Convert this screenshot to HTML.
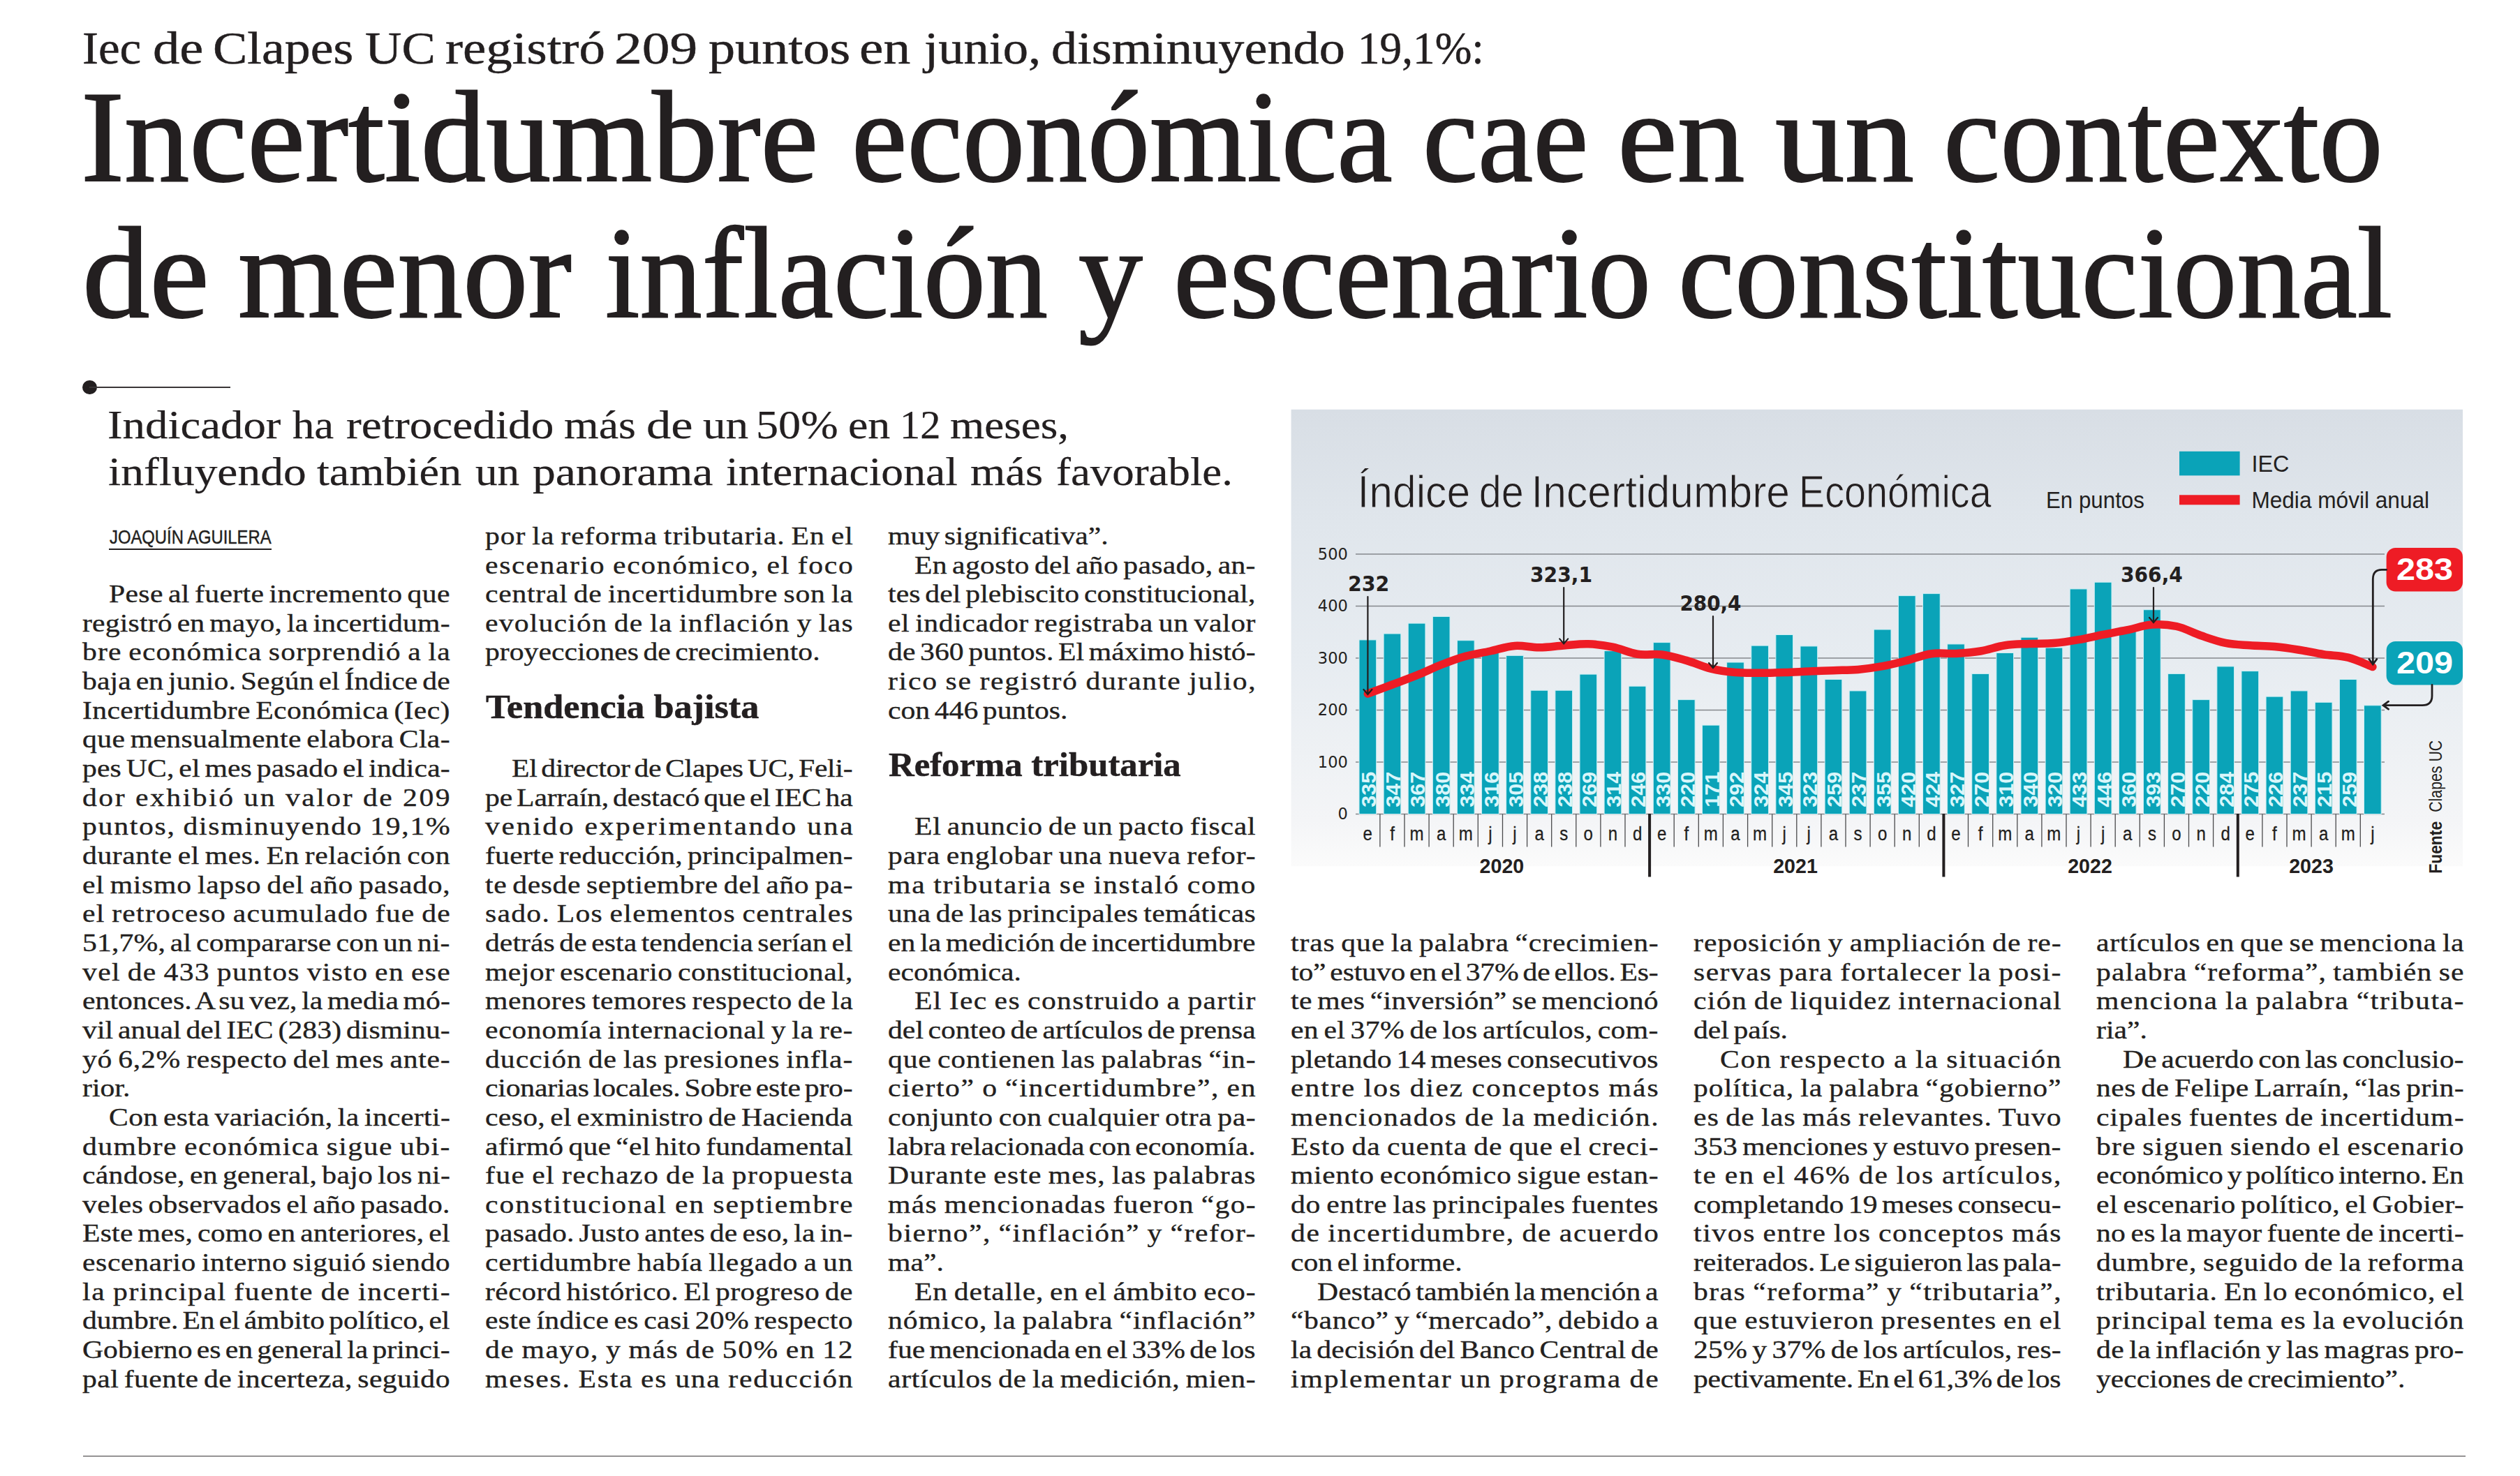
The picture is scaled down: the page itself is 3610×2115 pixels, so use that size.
<!DOCTYPE html>
<html lang="es"><head><meta charset="utf-8"><title>Incertidumbre económica cae en un contexto de menor inflación y escenario constitucional</title>
<style>
html,body{margin:0;padding:0;background:#fff}
body{width:3610px;height:2115px;position:relative;overflow:hidden;color:#231f20}
.t{display:block;position:absolute;white-space:pre;line-height:1;transform-origin:0 0;margin:0;font-kerning:normal}
h1,h2,h3,p,figure{margin:0;font-weight:400;font-size:inherit}
.b{font-family:'Liberation Serif',serif;font-size:35.2px;transform:scaleX(1.185);-webkit-text-stroke:.35px #231f20}
svg{position:absolute;left:0;top:0}
</style></head><body>
<p class="kicker"><span class="t" style="left:118.00px;top:37.16px;font-family:'Liberation Serif', serif;font-size:65px;transform:scaleX(1.0611);-webkit-text-stroke:0.5px #231f20;">Iec </span><span class="t" style="left:219.20px;top:37.16px;font-family:'Liberation Serif', serif;font-size:65px;transform:scaleX(1.1787);-webkit-text-stroke:0.5px #231f20;">de </span><span class="t" style="left:305.00px;top:37.16px;font-family:'Liberation Serif', serif;font-size:65px;transform:scaleX(1.1380);-webkit-text-stroke:0.5px #231f20;">Clapes </span><span class="t" style="left:523.00px;top:37.16px;font-family:'Liberation Serif', serif;font-size:65px;transform:scaleX(1.1164);-webkit-text-stroke:0.5px #231f20;">UC </span><span class="t" style="left:638.00px;top:37.16px;font-family:'Liberation Serif', serif;font-size:65px;transform:scaleX(1.1536);-webkit-text-stroke:0.5px #231f20;">registró </span><span class="t" style="left:880.00px;top:37.16px;font-family:'Liberation Serif', serif;font-size:65px;transform:scaleX(1.2240);-webkit-text-stroke:0.5px #231f20;">209 </span><span class="t" style="left:1015.00px;top:37.16px;font-family:'Liberation Serif', serif;font-size:65px;transform:scaleX(1.1724);-webkit-text-stroke:0.5px #231f20;">puntos </span><span class="t" style="left:1231.00px;top:37.16px;font-family:'Liberation Serif', serif;font-size:65px;transform:scaleX(1.1937);-webkit-text-stroke:0.5px #231f20;">en </span><span class="t" style="left:1324.00px;top:37.16px;font-family:'Liberation Serif', serif;font-size:65px;transform:scaleX(1.1158);-webkit-text-stroke:0.5px #231f20;">junio, </span><span class="t" style="left:1506.00px;top:37.16px;font-family:'Liberation Serif', serif;font-size:65px;transform:scaleX(1.1426);-webkit-text-stroke:0.5px #231f20;">disminuyendo </span><span class="t" style="left:1945.00px;top:37.16px;font-family:'Liberation Serif', serif;font-size:65px;transform:scaleX(0.9729);-webkit-text-stroke:0.5px #231f20;">19,1%:</span></p><h1><span class="t" style="left:115.60px;top:103.22px;font-family:'Liberation Serif', serif;font-size:186px;transform:scaleX(1.0027);-webkit-text-stroke:2px #231f20;">Incertidumbre </span><span class="t" style="left:1220.00px;top:103.22px;font-family:'Liberation Serif', serif;font-size:186px;transform:scaleX(0.9616);-webkit-text-stroke:2px #231f20;">económica </span><span class="t" style="left:2038.20px;top:103.22px;font-family:'Liberation Serif', serif;font-size:186px;transform:scaleX(0.9583);-webkit-text-stroke:2px #231f20;">cae </span><span class="t" style="left:2317.20px;top:103.22px;font-family:'Liberation Serif', serif;font-size:186px;transform:scaleX(1.0401);-webkit-text-stroke:2px #231f20;">en </span><span class="t" style="left:2543.00px;top:103.22px;font-family:'Liberation Serif', serif;font-size:186px;transform:scaleX(1.0702);-webkit-text-stroke:2px #231f20;">un </span><span class="t" style="left:2784.00px;top:103.22px;font-family:'Liberation Serif', serif;font-size:186px;transform:scaleX(0.9831);-webkit-text-stroke:2px #231f20;">contexto</span><span class="t" style="left:118.20px;top:298.23px;font-family:'Liberation Serif', serif;font-size:186px;transform:scaleX(1.0353);-webkit-text-stroke:2px #231f20;">de </span><span class="t" style="left:341.20px;top:298.23px;font-family:'Liberation Serif', serif;font-size:186px;transform:scaleX(1.0056);-webkit-text-stroke:2px #231f20;">menor </span><span class="t" style="left:867.00px;top:298.23px;font-family:'Liberation Serif', serif;font-size:186px;transform:scaleX(0.9591);-webkit-text-stroke:2px #231f20;">inflación </span><span class="t" style="left:1545.00px;top:298.23px;font-family:'Liberation Serif', serif;font-size:186px;transform:scaleX(0.9872);-webkit-text-stroke:2px #231f20;">y </span><span class="t" style="left:1681.00px;top:298.23px;font-family:'Liberation Serif', serif;font-size:186px;transform:scaleX(0.9743);-webkit-text-stroke:2px #231f20;">escenario </span><span class="t" style="left:2404.00px;top:298.23px;font-family:'Liberation Serif', serif;font-size:186px;transform:scaleX(0.9807);-webkit-text-stroke:2px #231f20;">constitucional</span></h1><div style="position:absolute;left:118.3px;top:544.7px;width:20.6px;height:20.6px;border-radius:50%;background:#231f20"></div><div style="position:absolute;left:128px;top:554.2px;width:202px;height:1.6px;background:#3a3637"></div><h2><span class="t" style="left:154.40px;top:579.86px;font-family:'Liberation Serif', serif;font-size:57px;transform:scaleX(1.1374);-webkit-text-stroke:0.25px #231f20;">Indicador </span><span class="t" style="left:419.20px;top:579.86px;font-family:'Liberation Serif', serif;font-size:57px;transform:scaleX(1.1003);-webkit-text-stroke:0.25px #231f20;">ha </span><span class="t" style="left:496.20px;top:579.86px;font-family:'Liberation Serif', serif;font-size:57px;transform:scaleX(1.1460);-webkit-text-stroke:0.25px #231f20;">retrocedido </span><span class="t" style="left:808.00px;top:579.86px;font-family:'Liberation Serif', serif;font-size:57px;transform:scaleX(1.1205);-webkit-text-stroke:0.25px #231f20;">más </span><span class="t" style="left:926.20px;top:579.86px;font-family:'Liberation Serif', serif;font-size:57px;transform:scaleX(1.2357);-webkit-text-stroke:0.25px #231f20;">de </span><span class="t" style="left:1006.80px;top:579.86px;font-family:'Liberation Serif', serif;font-size:57px;transform:scaleX(1.1446);-webkit-text-stroke:0.25px #231f20;">un </span><span class="t" style="left:1083.40px;top:579.86px;font-family:'Liberation Serif', serif;font-size:57px;transform:scaleX(1.1262);-webkit-text-stroke:0.25px #231f20;">50% </span><span class="t" style="left:1215.20px;top:579.86px;font-family:'Liberation Serif', serif;font-size:57px;transform:scaleX(1.1210);-webkit-text-stroke:0.25px #231f20;">en </span><span class="t" style="left:1288.80px;top:579.86px;font-family:'Liberation Serif', serif;font-size:57px;transform:scaleX(1.0243);-webkit-text-stroke:0.25px #231f20;">12 </span><span class="t" style="left:1361.00px;top:579.86px;font-family:'Liberation Serif', serif;font-size:57px;transform:scaleX(1.1081);-webkit-text-stroke:0.25px #231f20;">meses,</span><span class="t" style="left:155.40px;top:647.46px;font-family:'Liberation Serif', serif;font-size:57px;transform:scaleX(1.1485);-webkit-text-stroke:0.25px #231f20;">influyendo </span><span class="t" style="left:454.00px;top:647.46px;font-family:'Liberation Serif', serif;font-size:57px;transform:scaleX(1.1285);-webkit-text-stroke:0.25px #231f20;">también </span><span class="t" style="left:681.20px;top:647.46px;font-family:'Liberation Serif', serif;font-size:57px;transform:scaleX(1.1095);-webkit-text-stroke:0.25px #231f20;">un </span><span class="t" style="left:762.80px;top:647.46px;font-family:'Liberation Serif', serif;font-size:57px;transform:scaleX(1.1500);-webkit-text-stroke:0.25px #231f20;">panorama </span><span class="t" style="left:1039.60px;top:647.46px;font-family:'Liberation Serif', serif;font-size:57px;transform:scaleX(1.1152);-webkit-text-stroke:0.25px #231f20;">internacional </span><span class="t" style="left:1389.80px;top:647.46px;font-family:'Liberation Serif', serif;font-size:57px;transform:scaleX(1.1336);-webkit-text-stroke:0.25px #231f20;">más </span><span class="t" style="left:1512.60px;top:647.46px;font-family:'Liberation Serif', serif;font-size:57px;transform:scaleX(1.1024);-webkit-text-stroke:0.25px #231f20;">favorable.</span></h2><p class="byline"><span class="t" style="left:156.60px;top:756.83px;font-family:'Liberation Sans', sans-serif;font-size:26.9px;transform:scaleX(0.8856);-webkit-text-stroke:0.45px #231f20;">JOAQUÍN AGUILERA</span></p><div style="position:absolute;left:156px;top:786.3px;width:233px;height:1.6px;background:#231f20"></div>
<div class="col"><span class="t b" style="left:155.7px;top:834.1px;letter-spacing:0.27px;word-spacing:-2.89px">Pese al fuerte incremento que</span><span class="t b" style="left:117.7px;top:875.8px;letter-spacing:0.14px;word-spacing:-3.09px">registró en mayo, la incertidum-</span><span class="t b" style="left:117.7px;top:917.4px;letter-spacing:0.99px;word-spacing:-1.82px">bre económica sorprendió a la</span><span class="t b" style="left:117.7px;top:959.1px;letter-spacing:0.10px;word-spacing:-3.16px">baja en junio. Según el Índice de</span><span class="t b" style="left:117.7px;top:1000.7px;letter-spacing:0.30px;word-spacing:-2.84px">Incertidumbre Económica (Iec)</span><span class="t b" style="left:117.7px;top:1042.4px;letter-spacing:0.30px;word-spacing:-2.85px">que mensualmente elabora Cla-</span><span class="t b" style="left:117.7px;top:1084.0px;letter-spacing:0.10px;word-spacing:-3.15px">pes UC, el mes pasado el indica-</span><span class="t b" style="left:117.7px;top:1125.7px;letter-spacing:2.12px;word-spacing:-0.12px">dor exhibió un valor de 209</span><span class="t b" style="left:117.7px;top:1167.3px;letter-spacing:1.45px;word-spacing:-1.13px">puntos, disminuyendo 19,1%</span><span class="t b" style="left:117.7px;top:1209.0px;letter-spacing:0.46px;word-spacing:-2.61px">durante el mes. En relación con</span><span class="t b" style="left:117.7px;top:1250.6px;letter-spacing:0.58px;word-spacing:-2.43px">el mismo lapso del año pasado,</span><span class="t b" style="left:117.7px;top:1292.3px;letter-spacing:1.05px;word-spacing:-1.73px">el retroceso acumulado fue de</span><span class="t b" style="left:117.7px;top:1333.9px;letter-spacing:0.12px;word-spacing:-3.12px">51,7%, al compararse con un ni-</span><span class="t b" style="left:117.7px;top:1375.6px;letter-spacing:1.11px;word-spacing:-1.64px">vel de 433 puntos visto en ese</span><span class="t b" style="left:117.7px;top:1417.2px;letter-spacing:0.03px;word-spacing:-3.26px">entonces. A su vez, la media mó-</span><span class="t b" style="left:117.7px;top:1458.9px;letter-spacing:0.07px;word-spacing:-3.20px">vil anual del IEC (283) disminu-</span><span class="t b" style="left:117.7px;top:1500.5px;letter-spacing:0.58px;word-spacing:-2.43px">yó 6,2% respecto del mes ante-</span><span class="t b" style="left:117.7px;top:1542.2px;word-spacing:-3.30px">rior.</span><span class="t b" style="left:155.7px;top:1583.8px;letter-spacing:0.29px;word-spacing:-2.87px">Con esta variación, la incerti-</span><span class="t b" style="left:117.7px;top:1625.5px;letter-spacing:1.21px;word-spacing:-1.48px">dumbre económica sigue ubi-</span><span class="t b" style="left:117.7px;top:1667.1px;letter-spacing:0.22px;word-spacing:-2.98px">cándose, en general, bajo los ni-</span><span class="t b" style="left:117.7px;top:1708.8px;letter-spacing:0.25px;word-spacing:-2.92px">veles observados el año pasado.</span><span class="t b" style="left:117.7px;top:1750.4px;letter-spacing:0.17px;word-spacing:-3.05px">Este mes, como en anteriores, el</span><span class="t b" style="left:117.7px;top:1792.1px;letter-spacing:0.51px;word-spacing:-2.54px">escenario interno siguió siendo</span><span class="t b" style="left:117.7px;top:1833.7px;letter-spacing:1.37px;word-spacing:-1.25px">la principal fuente de incerti-</span><span class="t b" style="left:117.7px;top:1875.4px;letter-spacing:-0.06px;word-spacing:-3.60px">dumbre. En el ámbito político, el</span><span class="t b" style="left:117.7px;top:1917.0px;word-spacing:-3.55px">Gobierno es en general la princi-</span><span class="t b" style="left:117.7px;top:1958.7px;letter-spacing:0.35px;word-spacing:-2.77px">pal fuente de incerteza, seguido</span></div>
<div class="col"><span class="t b" style="left:694.7px;top:750.8px;letter-spacing:0.81px;word-spacing:-2.09px">por la reforma tributaria. En el</span><span class="t b" style="left:694.7px;top:792.5px;letter-spacing:1.40px;word-spacing:-1.21px">escenario económico, el foco</span><span class="t b" style="left:694.7px;top:834.1px;letter-spacing:0.61px;word-spacing:-2.39px">central de incertidumbre son la</span><span class="t b" style="left:694.7px;top:875.8px;letter-spacing:1.01px;word-spacing:-1.79px">evolución de la inflación y las</span><span class="t b" style="left:694.7px;top:917.4px;word-spacing:-3.30px">proyecciones de crecimiento.</span><h3><span class="t" style="left:696.00px;top:989.10px;font-family:'Liberation Serif', serif;font-size:48px;font-weight:700;transform:scaleX(1.0881);-webkit-text-stroke:0.5px #231f20;">Tendencia bajista</span></h3><span class="t b" style="left:732.7px;top:1084.0px;letter-spacing:-0.25px;word-spacing:-3.60px">El director de Clapes UC, Feli-</span><span class="t b" style="left:694.7px;top:1125.7px;letter-spacing:-0.12px;word-spacing:-3.60px">pe Larraín, destacó que el IEC ha</span><span class="t b" style="left:694.7px;top:1167.3px;letter-spacing:2.23px;word-spacing:0.04px">venido experimentando una</span><span class="t b" style="left:694.7px;top:1209.0px;letter-spacing:0.20px;word-spacing:-3.01px">fuerte reducción, principalmen-</span><span class="t b" style="left:694.7px;top:1250.6px;letter-spacing:0.49px;word-spacing:-2.57px">te desde septiembre del año pa-</span><span class="t b" style="left:694.7px;top:1292.3px;letter-spacing:1.05px;word-spacing:-1.72px">sado. Los elementos centrales</span><span class="t b" style="left:694.7px;top:1333.9px;letter-spacing:0.02px;word-spacing:-3.27px">detrás de esta tendencia serían el</span><span class="t b" style="left:694.7px;top:1375.6px;letter-spacing:0.37px;word-spacing:-2.74px">mejor escenario constitucional,</span><span class="t b" style="left:694.7px;top:1417.2px;letter-spacing:0.46px;word-spacing:-2.62px">menores temores respecto de la</span><span class="t b" style="left:694.7px;top:1458.9px;letter-spacing:0.55px;word-spacing:-2.47px">economía internacional y la re-</span><span class="t b" style="left:694.7px;top:1500.5px;letter-spacing:0.82px;word-spacing:-2.07px">ducción de las presiones infla-</span><span class="t b" style="left:694.7px;top:1542.2px;letter-spacing:-0.16px;word-spacing:-3.60px">cionarias locales. Sobre este pro-</span><span class="t b" style="left:694.7px;top:1583.8px;letter-spacing:0.25px;word-spacing:-2.92px">ceso, el exministro de Hacienda</span><span class="t b" style="left:694.7px;top:1625.5px;letter-spacing:0.17px;word-spacing:-3.04px">afirmó que “el hito fundamental</span><span class="t b" style="left:694.7px;top:1667.1px;letter-spacing:1.15px;word-spacing:-1.58px">fue el rechazo de la propuesta</span><span class="t b" style="left:694.7px;top:1708.8px;letter-spacing:1.61px;word-spacing:-0.88px">constitucional en septiembre</span><span class="t b" style="left:694.7px;top:1750.4px;letter-spacing:0.16px;word-spacing:-3.06px">pasado. Justo antes de eso, la in-</span><span class="t b" style="left:694.7px;top:1792.1px;letter-spacing:0.62px;word-spacing:-2.36px">certidumbre había llegado a un</span><span class="t b" style="left:694.7px;top:1833.7px;letter-spacing:0.35px;word-spacing:-2.77px">récord histórico. El progreso de</span><span class="t b" style="left:694.7px;top:1875.4px;letter-spacing:0.27px;word-spacing:-2.89px">este índice es casi 20% respecto</span><span class="t b" style="left:694.7px;top:1917.0px;letter-spacing:1.24px;word-spacing:-1.44px">de mayo, y más de 50% en 12</span><span class="t b" style="left:694.7px;top:1958.7px;letter-spacing:1.46px;word-spacing:-1.11px">meses. Esta es una reducción</span></div>
<div class="col"><span class="t b" style="left:1271.7px;top:750.8px;word-spacing:-3.30px">muy significativa”.</span><span class="t b" style="left:1309.7px;top:792.5px;letter-spacing:0.24px;word-spacing:-2.93px">En agosto del año pasado, an-</span><span class="t b" style="left:1271.7px;top:834.1px;letter-spacing:0.07px;word-spacing:-3.19px">tes del plebiscito constitucional,</span><span class="t b" style="left:1271.7px;top:875.8px;letter-spacing:0.48px;word-spacing:-2.57px">el indicador registraba un valor</span><span class="t b" style="left:1271.7px;top:917.4px;letter-spacing:0.04px;word-spacing:-3.24px">de 360 puntos. El máximo histó-</span><span class="t b" style="left:1271.7px;top:959.1px;letter-spacing:1.45px;word-spacing:-1.13px">rico se registró durante julio,</span><span class="t b" style="left:1271.7px;top:1000.7px;word-spacing:-3.30px">con 446 puntos.</span><h3><span class="t" style="left:1273.20px;top:1072.40px;font-family:'Liberation Serif', serif;font-size:48px;font-weight:700;transform:scaleX(1.0576);-webkit-text-stroke:0.5px #231f20;">Reforma tributaria</span></h3><span class="t b" style="left:1309.7px;top:1167.3px;letter-spacing:0.60px;word-spacing:-2.40px">El anuncio de un pacto fiscal</span><span class="t b" style="left:1271.7px;top:1209.0px;letter-spacing:0.70px;word-spacing:-2.25px">para englobar una nueva refor-</span><span class="t b" style="left:1271.7px;top:1250.6px;letter-spacing:1.44px;word-spacing:-1.13px">ma tributaria se instaló como</span><span class="t b" style="left:1271.7px;top:1292.3px;letter-spacing:0.33px;word-spacing:-2.81px">una de las principales temáticas</span><span class="t b" style="left:1271.7px;top:1333.9px;letter-spacing:0.06px;word-spacing:-3.21px">en la medición de incertidumbre</span><span class="t b" style="left:1271.7px;top:1375.6px;word-spacing:-3.30px">económica.</span><span class="t b" style="left:1309.7px;top:1417.2px;letter-spacing:1.15px;word-spacing:-1.57px">El Iec es construido a partir</span><span class="t b" style="left:1271.7px;top:1458.9px;letter-spacing:0.02px;word-spacing:-3.27px">del conteo de artículos de prensa</span><span class="t b" style="left:1271.7px;top:1500.5px;letter-spacing:0.66px;word-spacing:-2.31px">que contienen las palabras “in-</span><span class="t b" style="left:1271.7px;top:1542.2px;letter-spacing:1.35px;word-spacing:-1.27px">cierto” o “incertidumbre”, en</span><span class="t b" style="left:1271.7px;top:1583.8px;letter-spacing:0.50px;word-spacing:-2.55px">conjunto con cualquier otra pa-</span><span class="t b" style="left:1271.7px;top:1625.5px;letter-spacing:-0.00px;word-spacing:-3.60px">labra relacionada con economía.</span><span class="t b" style="left:1271.7px;top:1667.1px;letter-spacing:0.93px;word-spacing:-1.90px">Durante este mes, las palabras</span><span class="t b" style="left:1271.7px;top:1708.8px;letter-spacing:1.09px;word-spacing:-1.67px">más mencionadas fueron “go-</span><span class="t b" style="left:1271.7px;top:1750.4px;letter-spacing:1.33px;word-spacing:-1.30px">bierno”, “inflación” y “refor-</span><span class="t b" style="left:1271.7px;top:1792.1px;word-spacing:-3.30px">ma”.</span><span class="t b" style="left:1309.7px;top:1833.7px;letter-spacing:0.74px;word-spacing:-2.19px">En detalle, en el ámbito eco-</span><span class="t b" style="left:1271.7px;top:1875.4px;letter-spacing:0.85px;word-spacing:-2.03px">nómico, la palabra “inflación”</span><span class="t b" style="left:1271.7px;top:1917.0px;word-spacing:-3.45px">fue mencionada en el 33% de los</span><span class="t b" style="left:1271.7px;top:1958.7px;letter-spacing:0.58px;word-spacing:-2.43px">artículos de la medición, mien-</span></div>
<div class="col"><span class="t b" style="left:1848.7px;top:1333.9px;letter-spacing:0.72px;word-spacing:-2.22px">tras que la palabra “crecimien-</span><span class="t b" style="left:1848.7px;top:1375.6px;letter-spacing:-0.16px;word-spacing:-3.60px">to” estuvo en el 37% de ellos. Es-</span><span class="t b" style="left:1848.7px;top:1417.2px;letter-spacing:0.29px;word-spacing:-2.87px">te mes “inversión” se mencionó</span><span class="t b" style="left:1848.7px;top:1458.9px;letter-spacing:0.29px;word-spacing:-2.86px">en el 37% de los artículos, com-</span><span class="t b" style="left:1848.7px;top:1500.5px;letter-spacing:0.11px;word-spacing:-3.13px">pletando 14 meses consecutivos</span><span class="t b" style="left:1848.7px;top:1542.2px;letter-spacing:1.67px;word-spacing:-0.80px">entre los diez conceptos más</span><span class="t b" style="left:1848.7px;top:1583.8px;letter-spacing:1.44px;word-spacing:-1.14px">mencionados de la medición.</span><span class="t b" style="left:1848.7px;top:1625.5px;letter-spacing:0.88px;word-spacing:-1.98px">Esto da cuenta de que el creci-</span><span class="t b" style="left:1848.7px;top:1667.1px;letter-spacing:0.54px;word-spacing:-2.49px">miento económico sigue estan-</span><span class="t b" style="left:1848.7px;top:1708.8px;letter-spacing:0.59px;word-spacing:-2.42px">do entre las principales fuentes</span><span class="t b" style="left:1848.7px;top:1750.4px;letter-spacing:1.40px;word-spacing:-1.21px">de incertidumbre, de acuerdo</span><span class="t b" style="left:1848.7px;top:1792.1px;word-spacing:-3.30px">con el informe.</span><span class="t b" style="left:1886.7px;top:1833.7px;letter-spacing:0.04px;word-spacing:-3.23px">Destacó también la mención a</span><span class="t b" style="left:1848.7px;top:1875.4px;letter-spacing:0.50px;word-spacing:-2.55px">“banco” y “mercado”, debido a</span><span class="t b" style="left:1848.7px;top:1917.0px;letter-spacing:0.12px;word-spacing:-3.12px">la decisión del Banco Central de</span><span class="t b" style="left:1848.7px;top:1958.7px;letter-spacing:1.59px;word-spacing:-0.92px">implementar un programa de</span></div>
<div class="col"><span class="t b" style="left:2425.7px;top:1333.9px;letter-spacing:0.85px;word-spacing:-2.03px">reposición y ampliación de re-</span><span class="t b" style="left:2425.7px;top:1375.6px;letter-spacing:1.20px;word-spacing:-1.49px">servas para fortalecer la posi-</span><span class="t b" style="left:2425.7px;top:1417.2px;letter-spacing:1.11px;word-spacing:-1.64px">ción de liquidez internacional</span><span class="t b" style="left:2425.7px;top:1458.9px;word-spacing:-3.30px">del país.</span><span class="t b" style="left:2463.7px;top:1500.5px;letter-spacing:1.45px;word-spacing:-1.13px">Con respecto a la situación</span><span class="t b" style="left:2425.7px;top:1542.2px;letter-spacing:0.82px;word-spacing:-2.07px">política, la palabra “gobierno”</span><span class="t b" style="left:2425.7px;top:1583.8px;letter-spacing:0.95px;word-spacing:-1.87px">es de las más relevantes. Tuvo</span><span class="t b" style="left:2425.7px;top:1625.5px;letter-spacing:0.17px;word-spacing:-3.04px">353 menciones y estuvo presen-</span><span class="t b" style="left:2425.7px;top:1667.1px;letter-spacing:1.54px;word-spacing:-0.98px">te en el 46% de los artículos,</span><span class="t b" style="left:2425.7px;top:1708.8px;word-spacing:-3.33px">completando 19 meses consecu-</span><span class="t b" style="left:2425.7px;top:1750.4px;letter-spacing:1.33px;word-spacing:-1.31px">tivos entre los conceptos más</span><span class="t b" style="left:2425.7px;top:1792.1px;letter-spacing:-0.04px;word-spacing:-3.60px">reiterados. Le siguieron las pala-</span><span class="t b" style="left:2425.7px;top:1833.7px;letter-spacing:1.20px;word-spacing:-1.51px">bras “reforma” y “tributaria”,</span><span class="t b" style="left:2425.7px;top:1875.4px;letter-spacing:1.01px;word-spacing:-1.78px">que estuvieron presentes en el</span><span class="t b" style="left:2425.7px;top:1917.0px;letter-spacing:0.20px;word-spacing:-3.01px">25% y 37% de los artículos, res-</span><span class="t b" style="left:2425.7px;top:1958.7px;letter-spacing:-0.25px;word-spacing:-3.60px">pectivamente. En el 61,3% de los</span></div>
<div class="col"><span class="t b" style="left:3002.7px;top:1333.9px;letter-spacing:0.54px;word-spacing:-2.49px">artículos en que se menciona la</span><span class="t b" style="left:3002.7px;top:1375.6px;letter-spacing:0.93px;word-spacing:-1.90px">palabra “reforma”, también se</span><span class="t b" style="left:3002.7px;top:1417.2px;letter-spacing:1.32px;word-spacing:-1.32px">menciona la palabra “tributa-</span><span class="t b" style="left:3002.7px;top:1458.9px;word-spacing:-3.30px">ria”.</span><span class="t b" style="left:3040.7px;top:1500.5px;letter-spacing:0.04px;word-spacing:-3.23px">De acuerdo con las conclusio-</span><span class="t b" style="left:3002.7px;top:1542.2px;letter-spacing:0.34px;word-spacing:-2.79px">nes de Felipe Larraín, “las prin-</span><span class="t b" style="left:3002.7px;top:1583.8px;letter-spacing:0.93px;word-spacing:-1.90px">cipales fuentes de incertidum-</span><span class="t b" style="left:3002.7px;top:1625.5px;letter-spacing:1.01px;word-spacing:-1.78px">bre siguen siendo el escenario</span><span class="t b" style="left:3002.7px;top:1667.1px;letter-spacing:-0.11px;word-spacing:-3.60px">económico y político interno. En</span><span class="t b" style="left:3002.7px;top:1708.8px;letter-spacing:0.36px;word-spacing:-2.76px">el escenario político, el Gobier-</span><span class="t b" style="left:3002.7px;top:1750.4px;letter-spacing:0.22px;word-spacing:-2.97px">no es la mayor fuente de incerti-</span><span class="t b" style="left:3002.7px;top:1792.1px;letter-spacing:0.78px;word-spacing:-2.12px">dumbre, seguido de la reforma</span><span class="t b" style="left:3002.7px;top:1833.7px;letter-spacing:0.82px;word-spacing:-2.07px">tributaria. En lo económico, el</span><span class="t b" style="left:3002.7px;top:1875.4px;letter-spacing:1.01px;word-spacing:-1.78px">principal tema es la evolución</span><span class="t b" style="left:3002.7px;top:1917.0px;letter-spacing:0.26px;word-spacing:-2.90px">de la inflación y las magras pro-</span><span class="t b" style="left:3002.7px;top:1958.7px;word-spacing:-3.30px">yecciones de crecimiento”.</span></div><div style="position:absolute;left:118.6px;top:2085.6px;width:3413px;height:1.6px;background:#3a3637"></div>
<figure><svg width="1730" height="700" viewBox="1830 575 1730 700" style="left:1830px;top:575px" role="img" aria-label="Índice de Incertidumbre Económica">
<defs><linearGradient id="bg" x1="0" y1="0" x2="0" y2="1"><stop offset="0" stop-color="#d8dee5"/><stop offset="0.25" stop-color="#e0e6ec"/><stop offset="0.55" stop-color="#e7ecf1"/><stop offset="0.75" stop-color="#eef1f4"/><stop offset="0.9" stop-color="#f4f5f7"/><stop offset="1" stop-color="#fbfbfb"/></linearGradient></defs>
<rect x="1849.6" y="586.8" width="1678.4" height="654.5" fill="url(#bg)"/>
<line x1="1942" x2="3416" y1="1166.5" y2="1166.5" stroke="#85888c" stroke-width="1.5"/>
<text x="1930.8" y="1174.3" font-family="'DejaVu Sans', 'Liberation Sans', sans-serif" font-size="22.5" fill="#231f20" text-anchor="end">0</text>
<line x1="1942" x2="3416" y1="1092.0" y2="1092.0" stroke="#85888c" stroke-width="1.5"/>
<text x="1930.8" y="1099.8" font-family="'DejaVu Sans', 'Liberation Sans', sans-serif" font-size="22.5" fill="#231f20" text-anchor="end">100</text>
<line x1="1942" x2="3416" y1="1017.5" y2="1017.5" stroke="#85888c" stroke-width="1.5"/>
<text x="1930.8" y="1025.3" font-family="'DejaVu Sans', 'Liberation Sans', sans-serif" font-size="22.5" fill="#231f20" text-anchor="end">200</text>
<line x1="1942" x2="3416" y1="943.0" y2="943.0" stroke="#85888c" stroke-width="1.5"/>
<text x="1930.8" y="950.8" font-family="'DejaVu Sans', 'Liberation Sans', sans-serif" font-size="22.5" fill="#231f20" text-anchor="end">300</text>
<line x1="1942" x2="3416" y1="868.5" y2="868.5" stroke="#85888c" stroke-width="1.5"/>
<text x="1930.8" y="876.3" font-family="'DejaVu Sans', 'Liberation Sans', sans-serif" font-size="22.5" fill="#231f20" text-anchor="end">400</text>
<line x1="1942" x2="3416" y1="794.0" y2="794.0" stroke="#85888c" stroke-width="1.5"/>
<text x="1930.8" y="801.8" font-family="'DejaVu Sans', 'Liberation Sans', sans-serif" font-size="22.5" fill="#231f20" text-anchor="end">500</text>
<rect x="1947.00" y="916.9" width="24.7" height="249.6" fill="#0aa3b8" stroke="#cdeff4" stroke-width="1"/>
<rect x="1982.11" y="908.0" width="24.7" height="258.5" fill="#0aa3b8" stroke="#cdeff4" stroke-width="1"/>
<rect x="2017.22" y="893.1" width="24.7" height="273.4" fill="#0aa3b8" stroke="#cdeff4" stroke-width="1"/>
<rect x="2052.33" y="883.4" width="24.7" height="283.1" fill="#0aa3b8" stroke="#cdeff4" stroke-width="1"/>
<rect x="2087.44" y="917.7" width="24.7" height="248.8" fill="#0aa3b8" stroke="#cdeff4" stroke-width="1"/>
<rect x="2122.55" y="931.1" width="24.7" height="235.4" fill="#0aa3b8" stroke="#cdeff4" stroke-width="1"/>
<rect x="2157.66" y="939.3" width="24.7" height="227.2" fill="#0aa3b8" stroke="#cdeff4" stroke-width="1"/>
<rect x="2192.77" y="989.2" width="24.7" height="177.3" fill="#0aa3b8" stroke="#cdeff4" stroke-width="1"/>
<rect x="2227.88" y="989.2" width="24.7" height="177.3" fill="#0aa3b8" stroke="#cdeff4" stroke-width="1"/>
<rect x="2262.99" y="966.1" width="24.7" height="200.4" fill="#0aa3b8" stroke="#cdeff4" stroke-width="1"/>
<rect x="2298.10" y="932.6" width="24.7" height="233.9" fill="#0aa3b8" stroke="#cdeff4" stroke-width="1"/>
<rect x="2333.21" y="983.2" width="24.7" height="183.3" fill="#0aa3b8" stroke="#cdeff4" stroke-width="1"/>
<rect x="2368.32" y="920.6" width="24.7" height="245.8" fill="#0aa3b8" stroke="#cdeff4" stroke-width="1"/>
<rect x="2403.43" y="1002.6" width="24.7" height="163.9" fill="#0aa3b8" stroke="#cdeff4" stroke-width="1"/>
<rect x="2438.54" y="1039.1" width="24.7" height="127.4" fill="#0aa3b8" stroke="#cdeff4" stroke-width="1"/>
<rect x="2473.65" y="949.0" width="24.7" height="217.5" fill="#0aa3b8" stroke="#cdeff4" stroke-width="1"/>
<rect x="2508.76" y="925.1" width="24.7" height="241.4" fill="#0aa3b8" stroke="#cdeff4" stroke-width="1"/>
<rect x="2543.87" y="909.5" width="24.7" height="257.0" fill="#0aa3b8" stroke="#cdeff4" stroke-width="1"/>
<rect x="2578.98" y="925.9" width="24.7" height="240.6" fill="#0aa3b8" stroke="#cdeff4" stroke-width="1"/>
<rect x="2614.09" y="973.5" width="24.7" height="193.0" fill="#0aa3b8" stroke="#cdeff4" stroke-width="1"/>
<rect x="2649.20" y="989.9" width="24.7" height="176.6" fill="#0aa3b8" stroke="#cdeff4" stroke-width="1"/>
<rect x="2684.31" y="902.0" width="24.7" height="264.5" fill="#0aa3b8" stroke="#cdeff4" stroke-width="1"/>
<rect x="2719.42" y="853.6" width="24.7" height="312.9" fill="#0aa3b8" stroke="#cdeff4" stroke-width="1"/>
<rect x="2754.53" y="850.6" width="24.7" height="315.9" fill="#0aa3b8" stroke="#cdeff4" stroke-width="1"/>
<rect x="2789.64" y="922.9" width="24.7" height="243.6" fill="#0aa3b8" stroke="#cdeff4" stroke-width="1"/>
<rect x="2824.75" y="965.4" width="24.7" height="201.2" fill="#0aa3b8" stroke="#cdeff4" stroke-width="1"/>
<rect x="2859.86" y="935.5" width="24.7" height="230.9" fill="#0aa3b8" stroke="#cdeff4" stroke-width="1"/>
<rect x="2894.97" y="913.2" width="24.7" height="253.3" fill="#0aa3b8" stroke="#cdeff4" stroke-width="1"/>
<rect x="2930.08" y="928.1" width="24.7" height="238.4" fill="#0aa3b8" stroke="#cdeff4" stroke-width="1"/>
<rect x="2965.19" y="843.9" width="24.7" height="322.6" fill="#0aa3b8" stroke="#cdeff4" stroke-width="1"/>
<rect x="3000.30" y="834.2" width="24.7" height="332.3" fill="#0aa3b8" stroke="#cdeff4" stroke-width="1"/>
<rect x="3035.41" y="898.3" width="24.7" height="268.2" fill="#0aa3b8" stroke="#cdeff4" stroke-width="1"/>
<rect x="3070.52" y="873.7" width="24.7" height="292.8" fill="#0aa3b8" stroke="#cdeff4" stroke-width="1"/>
<rect x="3105.63" y="965.4" width="24.7" height="201.2" fill="#0aa3b8" stroke="#cdeff4" stroke-width="1"/>
<rect x="3140.74" y="1002.6" width="24.7" height="163.9" fill="#0aa3b8" stroke="#cdeff4" stroke-width="1"/>
<rect x="3175.85" y="954.9" width="24.7" height="211.6" fill="#0aa3b8" stroke="#cdeff4" stroke-width="1"/>
<rect x="3210.96" y="961.6" width="24.7" height="204.9" fill="#0aa3b8" stroke="#cdeff4" stroke-width="1"/>
<rect x="3246.07" y="998.1" width="24.7" height="168.4" fill="#0aa3b8" stroke="#cdeff4" stroke-width="1"/>
<rect x="3281.18" y="989.9" width="24.7" height="176.6" fill="#0aa3b8" stroke="#cdeff4" stroke-width="1"/>
<rect x="3316.29" y="1006.3" width="24.7" height="160.2" fill="#0aa3b8" stroke="#cdeff4" stroke-width="1"/>
<rect x="3351.40" y="973.5" width="24.7" height="193.0" fill="#0aa3b8" stroke="#cdeff4" stroke-width="1"/>
<rect x="3386.51" y="1010.8" width="24.7" height="155.7" fill="#0aa3b8" stroke="#cdeff4" stroke-width="1"/>
<text transform="translate(1971.1 1156.8) rotate(-90)" font-family="'Liberation Sans', sans-serif" font-size="29.5" font-weight="700" fill="#d9f6fa" textLength="51" lengthAdjust="spacingAndGlyphs">335</text>
<text transform="translate(2006.3 1156.8) rotate(-90)" font-family="'Liberation Sans', sans-serif" font-size="29.5" font-weight="700" fill="#d9f6fa" textLength="51" lengthAdjust="spacingAndGlyphs">347</text>
<text transform="translate(2041.4 1156.8) rotate(-90)" font-family="'Liberation Sans', sans-serif" font-size="29.5" font-weight="700" fill="#d9f6fa" textLength="51" lengthAdjust="spacingAndGlyphs">367</text>
<text transform="translate(2076.5 1156.8) rotate(-90)" font-family="'Liberation Sans', sans-serif" font-size="29.5" font-weight="700" fill="#d9f6fa" textLength="51" lengthAdjust="spacingAndGlyphs">380</text>
<text transform="translate(2111.6 1156.8) rotate(-90)" font-family="'Liberation Sans', sans-serif" font-size="29.5" font-weight="700" fill="#d9f6fa" textLength="51" lengthAdjust="spacingAndGlyphs">334</text>
<text transform="translate(2146.7 1156.8) rotate(-90)" font-family="'Liberation Sans', sans-serif" font-size="29.5" font-weight="700" fill="#d9f6fa" textLength="51" lengthAdjust="spacingAndGlyphs">316</text>
<text transform="translate(2181.8 1156.8) rotate(-90)" font-family="'Liberation Sans', sans-serif" font-size="29.5" font-weight="700" fill="#d9f6fa" textLength="51" lengthAdjust="spacingAndGlyphs">305</text>
<text transform="translate(2216.9 1156.8) rotate(-90)" font-family="'Liberation Sans', sans-serif" font-size="29.5" font-weight="700" fill="#d9f6fa" textLength="51" lengthAdjust="spacingAndGlyphs">238</text>
<text transform="translate(2252.0 1156.8) rotate(-90)" font-family="'Liberation Sans', sans-serif" font-size="29.5" font-weight="700" fill="#d9f6fa" textLength="51" lengthAdjust="spacingAndGlyphs">238</text>
<text transform="translate(2287.1 1156.8) rotate(-90)" font-family="'Liberation Sans', sans-serif" font-size="29.5" font-weight="700" fill="#d9f6fa" textLength="51" lengthAdjust="spacingAndGlyphs">269</text>
<text transform="translate(2322.2 1156.8) rotate(-90)" font-family="'Liberation Sans', sans-serif" font-size="29.5" font-weight="700" fill="#d9f6fa" textLength="51" lengthAdjust="spacingAndGlyphs">314</text>
<text transform="translate(2357.4 1156.8) rotate(-90)" font-family="'Liberation Sans', sans-serif" font-size="29.5" font-weight="700" fill="#d9f6fa" textLength="51" lengthAdjust="spacingAndGlyphs">246</text>
<text transform="translate(2392.5 1156.8) rotate(-90)" font-family="'Liberation Sans', sans-serif" font-size="29.5" font-weight="700" fill="#d9f6fa" textLength="51" lengthAdjust="spacingAndGlyphs">330</text>
<text transform="translate(2427.6 1156.8) rotate(-90)" font-family="'Liberation Sans', sans-serif" font-size="29.5" font-weight="700" fill="#d9f6fa" textLength="51" lengthAdjust="spacingAndGlyphs">220</text>
<text transform="translate(2462.7 1156.8) rotate(-90)" font-family="'Liberation Sans', sans-serif" font-size="29.5" font-weight="700" fill="#d9f6fa" textLength="51" lengthAdjust="spacingAndGlyphs">171</text>
<text transform="translate(2497.8 1156.8) rotate(-90)" font-family="'Liberation Sans', sans-serif" font-size="29.5" font-weight="700" fill="#d9f6fa" textLength="51" lengthAdjust="spacingAndGlyphs">292</text>
<text transform="translate(2532.9 1156.8) rotate(-90)" font-family="'Liberation Sans', sans-serif" font-size="29.5" font-weight="700" fill="#d9f6fa" textLength="51" lengthAdjust="spacingAndGlyphs">324</text>
<text transform="translate(2568.0 1156.8) rotate(-90)" font-family="'Liberation Sans', sans-serif" font-size="29.5" font-weight="700" fill="#d9f6fa" textLength="51" lengthAdjust="spacingAndGlyphs">345</text>
<text transform="translate(2603.1 1156.8) rotate(-90)" font-family="'Liberation Sans', sans-serif" font-size="29.5" font-weight="700" fill="#d9f6fa" textLength="51" lengthAdjust="spacingAndGlyphs">323</text>
<text transform="translate(2638.2 1156.8) rotate(-90)" font-family="'Liberation Sans', sans-serif" font-size="29.5" font-weight="700" fill="#d9f6fa" textLength="51" lengthAdjust="spacingAndGlyphs">259</text>
<text transform="translate(2673.3 1156.8) rotate(-90)" font-family="'Liberation Sans', sans-serif" font-size="29.5" font-weight="700" fill="#d9f6fa" textLength="51" lengthAdjust="spacingAndGlyphs">237</text>
<text transform="translate(2708.5 1156.8) rotate(-90)" font-family="'Liberation Sans', sans-serif" font-size="29.5" font-weight="700" fill="#d9f6fa" textLength="51" lengthAdjust="spacingAndGlyphs">355</text>
<text transform="translate(2743.6 1156.8) rotate(-90)" font-family="'Liberation Sans', sans-serif" font-size="29.5" font-weight="700" fill="#d9f6fa" textLength="51" lengthAdjust="spacingAndGlyphs">420</text>
<text transform="translate(2778.7 1156.8) rotate(-90)" font-family="'Liberation Sans', sans-serif" font-size="29.5" font-weight="700" fill="#d9f6fa" textLength="51" lengthAdjust="spacingAndGlyphs">424</text>
<text transform="translate(2813.8 1156.8) rotate(-90)" font-family="'Liberation Sans', sans-serif" font-size="29.5" font-weight="700" fill="#d9f6fa" textLength="51" lengthAdjust="spacingAndGlyphs">327</text>
<text transform="translate(2848.9 1156.8) rotate(-90)" font-family="'Liberation Sans', sans-serif" font-size="29.5" font-weight="700" fill="#d9f6fa" textLength="51" lengthAdjust="spacingAndGlyphs">270</text>
<text transform="translate(2884.0 1156.8) rotate(-90)" font-family="'Liberation Sans', sans-serif" font-size="29.5" font-weight="700" fill="#d9f6fa" textLength="51" lengthAdjust="spacingAndGlyphs">310</text>
<text transform="translate(2919.1 1156.8) rotate(-90)" font-family="'Liberation Sans', sans-serif" font-size="29.5" font-weight="700" fill="#d9f6fa" textLength="51" lengthAdjust="spacingAndGlyphs">340</text>
<text transform="translate(2954.2 1156.8) rotate(-90)" font-family="'Liberation Sans', sans-serif" font-size="29.5" font-weight="700" fill="#d9f6fa" textLength="51" lengthAdjust="spacingAndGlyphs">320</text>
<text transform="translate(2989.3 1156.8) rotate(-90)" font-family="'Liberation Sans', sans-serif" font-size="29.5" font-weight="700" fill="#d9f6fa" textLength="51" lengthAdjust="spacingAndGlyphs">433</text>
<text transform="translate(3024.5 1156.8) rotate(-90)" font-family="'Liberation Sans', sans-serif" font-size="29.5" font-weight="700" fill="#d9f6fa" textLength="51" lengthAdjust="spacingAndGlyphs">446</text>
<text transform="translate(3059.6 1156.8) rotate(-90)" font-family="'Liberation Sans', sans-serif" font-size="29.5" font-weight="700" fill="#d9f6fa" textLength="51" lengthAdjust="spacingAndGlyphs">360</text>
<text transform="translate(3094.7 1156.8) rotate(-90)" font-family="'Liberation Sans', sans-serif" font-size="29.5" font-weight="700" fill="#d9f6fa" textLength="51" lengthAdjust="spacingAndGlyphs">393</text>
<text transform="translate(3129.8 1156.8) rotate(-90)" font-family="'Liberation Sans', sans-serif" font-size="29.5" font-weight="700" fill="#d9f6fa" textLength="51" lengthAdjust="spacingAndGlyphs">270</text>
<text transform="translate(3164.9 1156.8) rotate(-90)" font-family="'Liberation Sans', sans-serif" font-size="29.5" font-weight="700" fill="#d9f6fa" textLength="51" lengthAdjust="spacingAndGlyphs">220</text>
<text transform="translate(3200.0 1156.8) rotate(-90)" font-family="'Liberation Sans', sans-serif" font-size="29.5" font-weight="700" fill="#d9f6fa" textLength="51" lengthAdjust="spacingAndGlyphs">284</text>
<text transform="translate(3235.1 1156.8) rotate(-90)" font-family="'Liberation Sans', sans-serif" font-size="29.5" font-weight="700" fill="#d9f6fa" textLength="51" lengthAdjust="spacingAndGlyphs">275</text>
<text transform="translate(3270.2 1156.8) rotate(-90)" font-family="'Liberation Sans', sans-serif" font-size="29.5" font-weight="700" fill="#d9f6fa" textLength="51" lengthAdjust="spacingAndGlyphs">226</text>
<text transform="translate(3305.3 1156.8) rotate(-90)" font-family="'Liberation Sans', sans-serif" font-size="29.5" font-weight="700" fill="#d9f6fa" textLength="51" lengthAdjust="spacingAndGlyphs">237</text>
<text transform="translate(3340.4 1156.8) rotate(-90)" font-family="'Liberation Sans', sans-serif" font-size="29.5" font-weight="700" fill="#d9f6fa" textLength="51" lengthAdjust="spacingAndGlyphs">215</text>
<text transform="translate(3375.6 1156.8) rotate(-90)" font-family="'Liberation Sans', sans-serif" font-size="29.5" font-weight="700" fill="#d9f6fa" textLength="51" lengthAdjust="spacingAndGlyphs">259</text>
<line x1="1976.9" x2="1976.9" y1="1166.5" y2="1213.5" stroke="#4a4a4c" stroke-width="1.3"/>
<line x1="2012.0" x2="2012.0" y1="1166.5" y2="1213.5" stroke="#4a4a4c" stroke-width="1.3"/>
<line x1="2047.1" x2="2047.1" y1="1166.5" y2="1213.5" stroke="#4a4a4c" stroke-width="1.3"/>
<line x1="2082.2" x2="2082.2" y1="1166.5" y2="1213.5" stroke="#4a4a4c" stroke-width="1.3"/>
<line x1="2117.3" x2="2117.3" y1="1166.5" y2="1213.5" stroke="#4a4a4c" stroke-width="1.3"/>
<line x1="2152.5" x2="2152.5" y1="1166.5" y2="1213.5" stroke="#4a4a4c" stroke-width="1.3"/>
<line x1="2187.6" x2="2187.6" y1="1166.5" y2="1213.5" stroke="#4a4a4c" stroke-width="1.3"/>
<line x1="2222.7" x2="2222.7" y1="1166.5" y2="1213.5" stroke="#4a4a4c" stroke-width="1.3"/>
<line x1="2257.8" x2="2257.8" y1="1166.5" y2="1213.5" stroke="#4a4a4c" stroke-width="1.3"/>
<line x1="2292.9" x2="2292.9" y1="1166.5" y2="1213.5" stroke="#4a4a4c" stroke-width="1.3"/>
<line x1="2328.0" x2="2328.0" y1="1166.5" y2="1213.5" stroke="#4a4a4c" stroke-width="1.3"/>
<line x1="2363.1" x2="2363.1" y1="1166" y2="1256.5" stroke="#231f20" stroke-width="4"/>
<line x1="2398.2" x2="2398.2" y1="1166.5" y2="1213.5" stroke="#4a4a4c" stroke-width="1.3"/>
<line x1="2433.3" x2="2433.3" y1="1166.5" y2="1213.5" stroke="#4a4a4c" stroke-width="1.3"/>
<line x1="2468.4" x2="2468.4" y1="1166.5" y2="1213.5" stroke="#4a4a4c" stroke-width="1.3"/>
<line x1="2503.6" x2="2503.6" y1="1166.5" y2="1213.5" stroke="#4a4a4c" stroke-width="1.3"/>
<line x1="2538.7" x2="2538.7" y1="1166.5" y2="1213.5" stroke="#4a4a4c" stroke-width="1.3"/>
<line x1="2573.8" x2="2573.8" y1="1166.5" y2="1213.5" stroke="#4a4a4c" stroke-width="1.3"/>
<line x1="2608.9" x2="2608.9" y1="1166.5" y2="1213.5" stroke="#4a4a4c" stroke-width="1.3"/>
<line x1="2644.0" x2="2644.0" y1="1166.5" y2="1213.5" stroke="#4a4a4c" stroke-width="1.3"/>
<line x1="2679.1" x2="2679.1" y1="1166.5" y2="1213.5" stroke="#4a4a4c" stroke-width="1.3"/>
<line x1="2714.2" x2="2714.2" y1="1166.5" y2="1213.5" stroke="#4a4a4c" stroke-width="1.3"/>
<line x1="2749.3" x2="2749.3" y1="1166.5" y2="1213.5" stroke="#4a4a4c" stroke-width="1.3"/>
<line x1="2784.4" x2="2784.4" y1="1166" y2="1256.5" stroke="#231f20" stroke-width="4"/>
<line x1="2819.5" x2="2819.5" y1="1166.5" y2="1213.5" stroke="#4a4a4c" stroke-width="1.3"/>
<line x1="2854.7" x2="2854.7" y1="1166.5" y2="1213.5" stroke="#4a4a4c" stroke-width="1.3"/>
<line x1="2889.8" x2="2889.8" y1="1166.5" y2="1213.5" stroke="#4a4a4c" stroke-width="1.3"/>
<line x1="2924.9" x2="2924.9" y1="1166.5" y2="1213.5" stroke="#4a4a4c" stroke-width="1.3"/>
<line x1="2960.0" x2="2960.0" y1="1166.5" y2="1213.5" stroke="#4a4a4c" stroke-width="1.3"/>
<line x1="2995.1" x2="2995.1" y1="1166.5" y2="1213.5" stroke="#4a4a4c" stroke-width="1.3"/>
<line x1="3030.2" x2="3030.2" y1="1166.5" y2="1213.5" stroke="#4a4a4c" stroke-width="1.3"/>
<line x1="3065.3" x2="3065.3" y1="1166.5" y2="1213.5" stroke="#4a4a4c" stroke-width="1.3"/>
<line x1="3100.4" x2="3100.4" y1="1166.5" y2="1213.5" stroke="#4a4a4c" stroke-width="1.3"/>
<line x1="3135.5" x2="3135.5" y1="1166.5" y2="1213.5" stroke="#4a4a4c" stroke-width="1.3"/>
<line x1="3170.6" x2="3170.6" y1="1166.5" y2="1213.5" stroke="#4a4a4c" stroke-width="1.3"/>
<line x1="3205.8" x2="3205.8" y1="1166" y2="1256.5" stroke="#231f20" stroke-width="4"/>
<line x1="3240.9" x2="3240.9" y1="1166.5" y2="1213.5" stroke="#4a4a4c" stroke-width="1.3"/>
<line x1="3276.0" x2="3276.0" y1="1166.5" y2="1213.5" stroke="#4a4a4c" stroke-width="1.3"/>
<line x1="3311.1" x2="3311.1" y1="1166.5" y2="1213.5" stroke="#4a4a4c" stroke-width="1.3"/>
<line x1="3346.2" x2="3346.2" y1="1166.5" y2="1213.5" stroke="#4a4a4c" stroke-width="1.3"/>
<line x1="3381.3" x2="3381.3" y1="1166.5" y2="1213.5" stroke="#4a4a4c" stroke-width="1.3"/>
<text transform="translate(1959.3 1203.6) scale(0.86 1)" font-family="'Liberation Sans', sans-serif" font-size="28" fill="#231f20" stroke="#231f20" stroke-width="0.3" text-anchor="middle">e</text>
<text transform="translate(1994.5 1203.6) scale(0.86 1)" font-family="'Liberation Sans', sans-serif" font-size="28" fill="#231f20" stroke="#231f20" stroke-width="0.3" text-anchor="middle">f</text>
<text transform="translate(2029.6 1203.6) scale(0.86 1)" font-family="'Liberation Sans', sans-serif" font-size="28" fill="#231f20" stroke="#231f20" stroke-width="0.3" text-anchor="middle">m</text>
<text transform="translate(2064.7 1203.6) scale(0.86 1)" font-family="'Liberation Sans', sans-serif" font-size="28" fill="#231f20" stroke="#231f20" stroke-width="0.3" text-anchor="middle">a</text>
<text transform="translate(2099.8 1203.6) scale(0.86 1)" font-family="'Liberation Sans', sans-serif" font-size="28" fill="#231f20" stroke="#231f20" stroke-width="0.3" text-anchor="middle">m</text>
<text transform="translate(2134.9 1203.6) scale(0.86 1)" font-family="'Liberation Sans', sans-serif" font-size="28" fill="#231f20" stroke="#231f20" stroke-width="0.3" text-anchor="middle">j</text>
<text transform="translate(2170.0 1203.6) scale(0.86 1)" font-family="'Liberation Sans', sans-serif" font-size="28" fill="#231f20" stroke="#231f20" stroke-width="0.3" text-anchor="middle">j</text>
<text transform="translate(2205.1 1203.6) scale(0.86 1)" font-family="'Liberation Sans', sans-serif" font-size="28" fill="#231f20" stroke="#231f20" stroke-width="0.3" text-anchor="middle">a</text>
<text transform="translate(2240.2 1203.6) scale(0.86 1)" font-family="'Liberation Sans', sans-serif" font-size="28" fill="#231f20" stroke="#231f20" stroke-width="0.3" text-anchor="middle">s</text>
<text transform="translate(2275.3 1203.6) scale(0.86 1)" font-family="'Liberation Sans', sans-serif" font-size="28" fill="#231f20" stroke="#231f20" stroke-width="0.3" text-anchor="middle">o</text>
<text transform="translate(2310.4 1203.6) scale(0.86 1)" font-family="'Liberation Sans', sans-serif" font-size="28" fill="#231f20" stroke="#231f20" stroke-width="0.3" text-anchor="middle">n</text>
<text transform="translate(2345.6 1203.6) scale(0.86 1)" font-family="'Liberation Sans', sans-serif" font-size="28" fill="#231f20" stroke="#231f20" stroke-width="0.3" text-anchor="middle">d</text>
<text transform="translate(2380.7 1203.6) scale(0.86 1)" font-family="'Liberation Sans', sans-serif" font-size="28" fill="#231f20" stroke="#231f20" stroke-width="0.3" text-anchor="middle">e</text>
<text transform="translate(2415.8 1203.6) scale(0.86 1)" font-family="'Liberation Sans', sans-serif" font-size="28" fill="#231f20" stroke="#231f20" stroke-width="0.3" text-anchor="middle">f</text>
<text transform="translate(2450.9 1203.6) scale(0.86 1)" font-family="'Liberation Sans', sans-serif" font-size="28" fill="#231f20" stroke="#231f20" stroke-width="0.3" text-anchor="middle">m</text>
<text transform="translate(2486.0 1203.6) scale(0.86 1)" font-family="'Liberation Sans', sans-serif" font-size="28" fill="#231f20" stroke="#231f20" stroke-width="0.3" text-anchor="middle">a</text>
<text transform="translate(2521.1 1203.6) scale(0.86 1)" font-family="'Liberation Sans', sans-serif" font-size="28" fill="#231f20" stroke="#231f20" stroke-width="0.3" text-anchor="middle">m</text>
<text transform="translate(2556.2 1203.6) scale(0.86 1)" font-family="'Liberation Sans', sans-serif" font-size="28" fill="#231f20" stroke="#231f20" stroke-width="0.3" text-anchor="middle">j</text>
<text transform="translate(2591.3 1203.6) scale(0.86 1)" font-family="'Liberation Sans', sans-serif" font-size="28" fill="#231f20" stroke="#231f20" stroke-width="0.3" text-anchor="middle">j</text>
<text transform="translate(2626.4 1203.6) scale(0.86 1)" font-family="'Liberation Sans', sans-serif" font-size="28" fill="#231f20" stroke="#231f20" stroke-width="0.3" text-anchor="middle">a</text>
<text transform="translate(2661.5 1203.6) scale(0.86 1)" font-family="'Liberation Sans', sans-serif" font-size="28" fill="#231f20" stroke="#231f20" stroke-width="0.3" text-anchor="middle">s</text>
<text transform="translate(2696.7 1203.6) scale(0.86 1)" font-family="'Liberation Sans', sans-serif" font-size="28" fill="#231f20" stroke="#231f20" stroke-width="0.3" text-anchor="middle">o</text>
<text transform="translate(2731.8 1203.6) scale(0.86 1)" font-family="'Liberation Sans', sans-serif" font-size="28" fill="#231f20" stroke="#231f20" stroke-width="0.3" text-anchor="middle">n</text>
<text transform="translate(2766.9 1203.6) scale(0.86 1)" font-family="'Liberation Sans', sans-serif" font-size="28" fill="#231f20" stroke="#231f20" stroke-width="0.3" text-anchor="middle">d</text>
<text transform="translate(2802.0 1203.6) scale(0.86 1)" font-family="'Liberation Sans', sans-serif" font-size="28" fill="#231f20" stroke="#231f20" stroke-width="0.3" text-anchor="middle">e</text>
<text transform="translate(2837.1 1203.6) scale(0.86 1)" font-family="'Liberation Sans', sans-serif" font-size="28" fill="#231f20" stroke="#231f20" stroke-width="0.3" text-anchor="middle">f</text>
<text transform="translate(2872.2 1203.6) scale(0.86 1)" font-family="'Liberation Sans', sans-serif" font-size="28" fill="#231f20" stroke="#231f20" stroke-width="0.3" text-anchor="middle">m</text>
<text transform="translate(2907.3 1203.6) scale(0.86 1)" font-family="'Liberation Sans', sans-serif" font-size="28" fill="#231f20" stroke="#231f20" stroke-width="0.3" text-anchor="middle">a</text>
<text transform="translate(2942.4 1203.6) scale(0.86 1)" font-family="'Liberation Sans', sans-serif" font-size="28" fill="#231f20" stroke="#231f20" stroke-width="0.3" text-anchor="middle">m</text>
<text transform="translate(2977.5 1203.6) scale(0.86 1)" font-family="'Liberation Sans', sans-serif" font-size="28" fill="#231f20" stroke="#231f20" stroke-width="0.3" text-anchor="middle">j</text>
<text transform="translate(3012.7 1203.6) scale(0.86 1)" font-family="'Liberation Sans', sans-serif" font-size="28" fill="#231f20" stroke="#231f20" stroke-width="0.3" text-anchor="middle">j</text>
<text transform="translate(3047.8 1203.6) scale(0.86 1)" font-family="'Liberation Sans', sans-serif" font-size="28" fill="#231f20" stroke="#231f20" stroke-width="0.3" text-anchor="middle">a</text>
<text transform="translate(3082.9 1203.6) scale(0.86 1)" font-family="'Liberation Sans', sans-serif" font-size="28" fill="#231f20" stroke="#231f20" stroke-width="0.3" text-anchor="middle">s</text>
<text transform="translate(3118.0 1203.6) scale(0.86 1)" font-family="'Liberation Sans', sans-serif" font-size="28" fill="#231f20" stroke="#231f20" stroke-width="0.3" text-anchor="middle">o</text>
<text transform="translate(3153.1 1203.6) scale(0.86 1)" font-family="'Liberation Sans', sans-serif" font-size="28" fill="#231f20" stroke="#231f20" stroke-width="0.3" text-anchor="middle">n</text>
<text transform="translate(3188.2 1203.6) scale(0.86 1)" font-family="'Liberation Sans', sans-serif" font-size="28" fill="#231f20" stroke="#231f20" stroke-width="0.3" text-anchor="middle">d</text>
<text transform="translate(3223.3 1203.6) scale(0.86 1)" font-family="'Liberation Sans', sans-serif" font-size="28" fill="#231f20" stroke="#231f20" stroke-width="0.3" text-anchor="middle">e</text>
<text transform="translate(3258.4 1203.6) scale(0.86 1)" font-family="'Liberation Sans', sans-serif" font-size="28" fill="#231f20" stroke="#231f20" stroke-width="0.3" text-anchor="middle">f</text>
<text transform="translate(3293.5 1203.6) scale(0.86 1)" font-family="'Liberation Sans', sans-serif" font-size="28" fill="#231f20" stroke="#231f20" stroke-width="0.3" text-anchor="middle">m</text>
<text transform="translate(3328.6 1203.6) scale(0.86 1)" font-family="'Liberation Sans', sans-serif" font-size="28" fill="#231f20" stroke="#231f20" stroke-width="0.3" text-anchor="middle">a</text>
<text transform="translate(3363.8 1203.6) scale(0.86 1)" font-family="'Liberation Sans', sans-serif" font-size="28" fill="#231f20" stroke="#231f20" stroke-width="0.3" text-anchor="middle">m</text>
<text transform="translate(3398.9 1203.6) scale(0.86 1)" font-family="'Liberation Sans', sans-serif" font-size="28" fill="#231f20" stroke="#231f20" stroke-width="0.3" text-anchor="middle">j</text>
<text x="2151.4" y="1250.7" font-family="'Liberation Sans', sans-serif" font-size="28.6" font-weight="700" fill="#231f20" text-anchor="middle">2020</text>
<text x="2572.0" y="1250.7" font-family="'Liberation Sans', sans-serif" font-size="28.6" font-weight="700" fill="#231f20" text-anchor="middle">2021</text>
<text x="2994.0" y="1250.7" font-family="'Liberation Sans', sans-serif" font-size="28.6" font-weight="700" fill="#231f20" text-anchor="middle">2022</text>
<text x="3311.0" y="1250.7" font-family="'Liberation Sans', sans-serif" font-size="28.6" font-weight="700" fill="#231f20" text-anchor="middle">2023</text>
<path d="M1959.3 994.0C1965.7 991.7 1981.8 985.7 1994.5 981.0C2007.1 976.3 2016.9 972.8 2029.6 967.7C2042.2 962.6 2052.0 957.5 2064.7 952.5C2077.3 947.5 2087.2 943.7 2099.8 940.2C2112.4 936.7 2122.3 935.7 2134.9 933.0C2147.5 930.3 2157.4 926.3 2170.0 925.4C2182.6 924.5 2192.5 927.9 2205.1 927.8C2217.8 927.7 2227.6 925.9 2240.2 925.0C2252.9 924.1 2262.7 922.4 2275.3 922.8C2288.0 923.2 2297.8 924.5 2310.4 927.1C2323.1 929.7 2332.9 935.3 2345.6 937.3C2358.2 939.3 2368.0 936.4 2380.7 938.0C2393.3 939.6 2403.1 942.8 2415.8 946.4C2428.4 950.0 2438.3 955.1 2450.9 958.2C2463.5 961.3 2473.4 962.4 2486.0 963.5C2498.6 964.6 2508.5 964.2 2521.1 964.2C2533.7 964.2 2543.6 963.9 2556.2 963.5C2568.9 963.1 2578.7 962.5 2591.3 962.0C2604.0 961.5 2613.8 961.2 2626.4 960.7C2639.1 960.2 2648.9 960.5 2661.5 959.4C2674.2 958.3 2684.0 957.0 2696.7 954.7C2709.3 952.4 2719.1 949.6 2731.8 946.4C2744.4 943.2 2754.2 938.5 2766.9 936.7C2779.5 934.9 2789.4 937.1 2802.0 936.4C2814.6 935.7 2824.5 935.1 2837.1 933.0C2849.7 930.9 2859.6 926.6 2872.2 924.7C2884.8 922.8 2894.7 923.1 2907.3 922.5C2920.0 921.9 2929.8 922.6 2942.4 921.6C2955.1 920.6 2964.9 918.9 2977.5 916.7C2990.2 914.5 3000.0 911.9 3012.7 909.4C3025.3 906.9 3035.1 905.3 3047.8 902.7C3060.4 900.1 3070.2 895.9 3082.9 895.0C3095.5 894.1 3105.3 894.7 3118.0 897.5C3130.6 900.3 3140.5 906.5 3153.1 910.8C3165.7 915.1 3175.6 918.9 3188.2 921.4C3200.8 923.9 3210.7 923.8 3223.3 924.7C3235.9 925.6 3245.8 925.3 3258.4 926.5C3271.1 927.7 3280.9 929.2 3293.5 931.2C3306.2 933.2 3316.0 935.7 3328.6 937.7C3341.3 939.7 3351.1 939.0 3363.8 942.2C3376.4 945.4 3392.5 953.2 3398.9 955.6" fill="none" stroke="#ee1c25" stroke-width="11.5" stroke-linejoin="round" stroke-linecap="round"/>
<text x="1931.0" y="846.8" font-family="'DejaVu Sans', 'Liberation Sans', sans-serif" font-size="30" font-weight="700" fill="#231f20" textLength="59.3" lengthAdjust="spacingAndGlyphs">232</text>
<path d="M1959.4 855.0V995.0M1953.4 988.0L1959.4 995.0L1965.4 988.0" fill="none" stroke="#231f20" stroke-width="2.2" stroke-linecap="round" stroke-linejoin="miter"/>
<text x="2192.0" y="834.0" font-family="'DejaVu Sans', 'Liberation Sans', sans-serif" font-size="30" font-weight="700" fill="#231f20" textLength="89.2" lengthAdjust="spacingAndGlyphs">323,1</text>
<path d="M2240.2 842.0V922.4M2234.2 915.4L2240.2 922.4L2246.2 915.4" fill="none" stroke="#231f20" stroke-width="2.2" stroke-linecap="round" stroke-linejoin="miter"/>
<text x="2406.4" y="875.0" font-family="'DejaVu Sans', 'Liberation Sans', sans-serif" font-size="30" font-weight="700" fill="#231f20" textLength="88.1" lengthAdjust="spacingAndGlyphs">280,4</text>
<path d="M2454.0 883.0V957.0M2448.0 950.0L2454.0 957.0L2460.0 950.0" fill="none" stroke="#231f20" stroke-width="2.2" stroke-linecap="round" stroke-linejoin="miter"/>
<text x="3038.0" y="834.3" font-family="'DejaVu Sans', 'Liberation Sans', sans-serif" font-size="30" font-weight="700" fill="#231f20" textLength="88.9" lengthAdjust="spacingAndGlyphs">366,4</text>
<path d="M3085.0 842.0V892.0M3079.0 885.0L3085.0 892.0L3091.0 885.0" fill="none" stroke="#231f20" stroke-width="2.2" stroke-linecap="round" stroke-linejoin="miter"/>
<rect x="3418.6" y="785" width="109.4" height="62.5" rx="13" fill="#ee1c25"/>
<text x="3433.0" y="831.4" font-family="'Liberation Sans', sans-serif" font-size="45" font-weight="700" fill="#fff" textLength="81.0" lengthAdjust="spacingAndGlyphs">283</text>
<rect x="3418.6" y="919" width="109.4" height="62.5" rx="13" fill="#0aa3b8"/>
<text x="3433.0" y="965.4" font-family="'Liberation Sans', sans-serif" font-size="45" font-weight="700" fill="#fff" textLength="81.0" lengthAdjust="spacingAndGlyphs">209</text>
<path d="M3418.6 816.4H3412Q3399.3 816.4 3399.3 830V951M3393.8 944.5L3399.3 952L3404.8 944.5" fill="none" stroke="#231f20" stroke-width="2.8" stroke-linecap="round"/>
<path d="M3484 981.5V997Q3484 1010.7 3470 1010.7H3414.5M3421.5 1005.2L3414 1010.7L3421.5 1016.2" fill="none" stroke="#231f20" stroke-width="2.8" stroke-linecap="round"/>
<text x="1944.4" y="727.0" font-family="'Liberation Sans', sans-serif" font-size="64" fill="#231f20" textLength="161.7" lengthAdjust="spacingAndGlyphs" stroke="#e0e4e9" stroke-width="0.9">Índice</text>
<text x="2118.8" y="727.0" font-family="'Liberation Sans', sans-serif" font-size="64" fill="#231f20" textLength="64.0" lengthAdjust="spacingAndGlyphs" stroke="#e0e4e9" stroke-width="0.9">de</text>
<text x="2193.4" y="727.0" font-family="'Liberation Sans', sans-serif" font-size="64" fill="#231f20" textLength="370.7" lengthAdjust="spacingAndGlyphs" stroke="#e0e4e9" stroke-width="0.9">Incertidumbre</text>
<text x="2577.0" y="727.0" font-family="'Liberation Sans', sans-serif" font-size="64" fill="#231f20" textLength="275.7" lengthAdjust="spacingAndGlyphs" stroke="#e0e4e9" stroke-width="0.9">Económica</text>
<text x="2931.0" y="727.9" font-family="'Liberation Sans', sans-serif" font-size="33.4" fill="#231f20" textLength="140.9" lengthAdjust="spacingAndGlyphs">En puntos</text>
<rect x="3122" y="646.8" width="86.6" height="34.6" fill="#0aa3b8"/>
<text x="3225.4" y="676.0" font-family="'Liberation Sans', sans-serif" font-size="32.7" fill="#231f20" textLength="54.0" lengthAdjust="spacingAndGlyphs">IEC</text>
<rect x="3122" y="709.3" width="86.6" height="14" fill="#ee1c25"/>
<text x="3225.4" y="727.9" font-family="'Liberation Sans', sans-serif" font-size="33.4" fill="#231f20" textLength="254.7" lengthAdjust="spacingAndGlyphs">Media móvil anual</text>
<text transform="translate(3497.5 1251.8) rotate(-90)" font-family="'Liberation Sans', sans-serif" font-size="26" fill="#231f20"><tspan font-weight="700" textLength="75" lengthAdjust="spacingAndGlyphs">Fuente</tspan><tspan dx="13" textLength="103" lengthAdjust="spacingAndGlyphs">Clapes UC</tspan></text>
</svg></figure>
</body></html>
